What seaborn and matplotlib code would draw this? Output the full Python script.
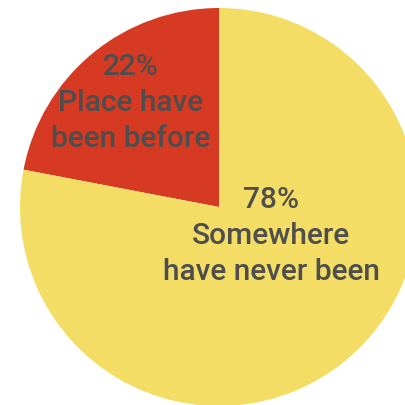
import matplotlib
matplotlib.use("Agg")
import matplotlib.pyplot as plt
import seaborn as sns

# Share of trips by destination familiarity
categories = ["Place have\nbeen before", "Somewhere\nhave never been"]
shares = [22, 78]
colors = ["#D63A23", "#F3DD64"]

sns.set_theme(style="white")
plt.rcParams["font.family"] = ["Roboto", "DejaVu Sans"]

fig = plt.figure(figsize=(4.06, 4.06), dpi=100)
ax = fig.add_axes([0, 0, 1, 1])

ax.pie(
    shares,
    colors=colors,
    startangle=90,
    counterclock=True,
    center=(219, 198),
    radius=199,
    frame=True,
    wedgeprops=dict(linewidth=0),
)
ax.set_xlim(0, 406)
ax.set_ylim(0, 406)
ax.set_aspect("equal")
ax.axis("off")

label_pos = [(131, 303), (271, 170)]
for (x, y), cat, val in zip(label_pos, categories, shares):
    ax.text(x, y, f"{val}%\n{cat}", ha="center", va="center",
            fontsize=21.5, fontweight="medium", color="#4E4E4E",
            linespacing=1.38)

fig.savefig("out.png", dpi=100)
